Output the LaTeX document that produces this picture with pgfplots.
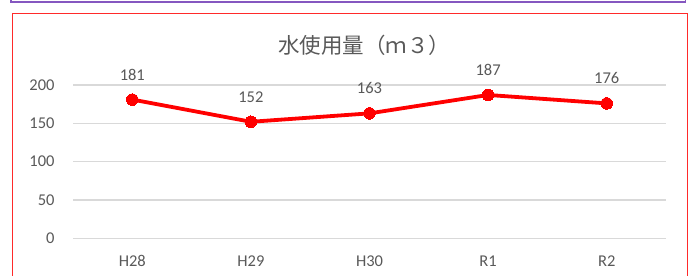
\documentclass[border=0pt]{standalone}
\usepackage{pgfplots}
\pgfplotsset{compat=1.18}
\usepackage{fontspec}
\setmainfont{Carlito}
\newfontfamily\cjk{Noto Sans CJK JP}
\definecolor{txt}{HTML}{595959}
\definecolor{gridc}{HTML}{D9D9D9}
\definecolor{purp}{HTML}{8557C0}
\definecolor{framec}{HTML}{FF2A2A}
\pgfplotstableread{
x y
0 181
1 152
2 163
3 187
4 176
}\datatab
\begin{document}
\begin{tikzpicture}[x=1bp,y=1bp]
\useasboundingbox (0,0) rectangle (689,275);
% purple box bottom edge
\draw[purp,line width=1.6bp] (11,290) -- (11,273) -- (685.5,273) -- (685.5,290);
% red frame
\draw[framec,line width=1.4bp] (12.7,-10) -- (12.7,261.7) -- (687.3,261.7) -- (687.3,-10);
\node[text=txt,font={\cjk\fontsize{21.5bp}{23bp}\selectfont}] at (364,230) {水使用量（ｍ３）};
\begin{axis}[
  at={(73bp,36.7bp)}, anchor=south west,
  scale only axis, width=593bp, height=153.3bp,
  xmin=-0.5, xmax=4.5, ymin=0, ymax=200,
  axis line style={draw=none},
  ytick={0,50,100,150,200},
  xtick={0,1,2,3,4},
  xticklabels={H28,H29,H30,R1,R2},
  major tick length=0pt,
  ymajorgrids, xmajorgrids=false, grid style={draw=gridc,line width=1.4bp},
  tick label style={text=txt,font=\fontsize{16.5bp}{18bp}\selectfont},
  /pgf/number format/assume math mode=true,
  yticklabel style={xshift=-15bp},
  xticklabel style={anchor=base,yshift=-28bp},
  clip=false,
]
\addplot[color=red, line width=3.8bp, mark=*, mark size=5.8bp,
  mark options={fill=red,draw=red,line width=0pt},
  nodes near coords,
  nodes near coords style={text=txt,font=\fontsize{16.5bp}{18bp}\selectfont,anchor=center,yshift=25bp},
  ] table[x=x,y=y] {\datatab};
\end{axis}
\end{tikzpicture}
\end{document}
